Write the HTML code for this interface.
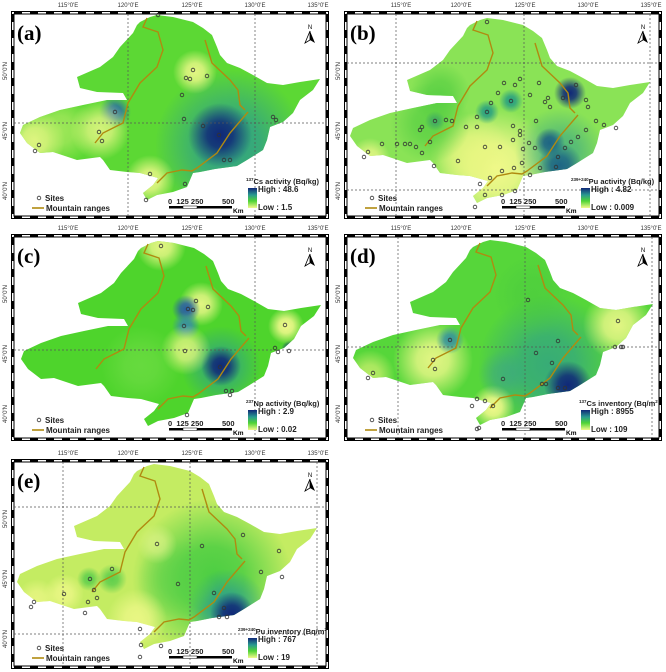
<!DOCTYPE html>
<html><head><meta charset="utf-8"><style>
html,body{margin:0;padding:0;background:#fff;width:666px;height:672px;overflow:hidden}
svg{position:absolute;font-family:"Liberation Sans",sans-serif}
</style></head><body>
<div id="root"></div>
<script>
const shape="M157,15 L173,17 L193,22 L203,28 L212,35 L217,47 L220,55 L227,63 L240,68 L253,75 L267,83 L283,85 L300,82 L320,79 L313,90 L300,100 L293,113 L283,122 L270,127 L267,140 L263,150 L247,160 L237,166 L215,169 L200,172 L193,173 L187,187 L173,192 L157,195 L147,200 L143,193 L153,185 L158,178 L140,173 L127,172 L110,170 L103,160 L100,157 L77,160 L53,152 L40,153 L27,143 L20,133 L23,125 L40,117 L60,110 L83,105 L107,100 L127,100 L123,93 L97,92 L80,88 L77,77 L100,67 L113,57 L120,47 L133,33 L137,25 L140,22 L150,17 Z";
const mtn=["M147,18 L143,27 L158,32 L163,50 L157,67 L140,83 L128,103 L123,123 L103,133 L95,143","M205,40 L212,63 L230,80 L238,90 L240,105 L245,110","M248,112 L230,133 L217,153 L197,168 L192,171 L182,170 L167,173 L157,183"];
const Y="#f2f98c",G="#4fd435",B="#102878",T="#2a9a90";
const P=[
 {id:"a",ox:0,oy:0,fy0:11,fy1:218,dx:0,dy:0,base:"#5cd834",
  blobs:[[230,145,75,T,0.85],[220,135,32,B,1],[115,112,16,"#2a70a0",1],[195,72,22,Y,0.9],[100,130,30,Y,0.8],[35,140,30,Y,0.9],[150,180,25,Y,0.9],[60,130,35,"#c8f070",0.6]],
  vx:[128,255],hy:[123],t1:"Cs activity (Bq/kg)",sup:"137",hi:"High : 48.6",lo:"Low : 1.5",
  sites:[[158,15],[193,70],[186,78],[190,79],[207,76],[182,95],[184,119],[203,126],[219,135],[99,132],[102,141],[39,145],[35,151],[115,112],[273,117],[276,120],[224,160],[230,160],[150,174],[185,184],[146,200]]},
 {id:"b",ox:333,oy:0,fy0:11,fy1:218,dx:-3,dy:3,base:"#8ae356",
  blobs:[[165,165,60,Y,1],[140,150,40,"#e8f680",0.8],[240,90,16,B,1],[220,140,15,B,1],[230,162,22,B,1],[230,150,45,T,0.6],[105,118,10,"#2a70a0",1],[157,109,12,"#2aa080",1],[181,98,12,"#2aa080",1],[100,120,40,"#50cc40",0.7],[110,90,30,"#50cc40",0.7],[40,155,20,Y,0.8]],
  vx:[63,191,317],hy:[63,190],t1:"Pu activity (Bq/kg)",sup:"239+240",hi:"High : 4.82",lo:"Low : 0.009",
  sites:[[157,19],[174,80],[190,76],[185,82],[209,80],[200,92],[181,98],[161,100],[168,90],[157,109],[147,114],[116,117],[122,118],[105,118],[92,124],[90,127],[136,124],[147,124],[183,123],[190,128],[206,118],[218,95],[246,82],[256,97],[258,104],[266,118],[274,122],[286,125],[256,127],[248,134],[241,139],[235,145],[228,154],[226,164],[210,165],[200,172],[192,160],[184,165],[172,168],[160,175],[150,181],[155,192],[172,192],[185,188],[52,141],[67,141],[75,141],[80,141],[86,144],[100,139],[92,150],[38,149],[34,154],[128,158],[104,163],[193,146],[199,140],[205,145],[155,144],[170,144],[183,137],[190,132],[145,204],[233,95],[220,104],[215,99]]},
 {id:"c",ox:0,oy:222,fy0:12,fy1:218,dx:1,dy:4,base:"#4ed42c",
  blobs:[[220,140,40,T,0.7],[220,140,20,B,1],[290,124,10,B,1],[285,100,18,Y,1],[200,78,22,Y,0.9],[185,83,14,"#2a60a0",1],[185,100,14,"#3a90a0",1],[160,20,25,Y,0.9],[185,124,25,Y,0.8],[140,140,40,"#7ee050",0.5]],
  vx:[255],hy:[128],t1:"Np activity (Bq/kg)",sup:"237",hi:"High : 2.9",lo:"Low : 0.02",
  sites:[[160,20],[195,75],[192,84],[187,83],[207,81],[183,100],[184,125],[219,141],[225,165],[231,165],[229,169],[274,122],[277,126],[288,125],[284,99],[186,189]]},
 {id:"d",ox:333,oy:222,fy0:12,fy1:218,dx:0,dy:3,base:"#56d63a",
  blobs:[[215,140,70,T,0.7],[235,160,24,B,1],[100,135,40,Y,0.9],[285,100,35,Y,0.9],[160,182,22,Y,1],[37,150,25,"#d0f070",0.8],[117,115,14,"#2a8aa0",0.9],[170,150,25,"#3aa090",0.5],[200,70,40,"#48c840",0.5]],
  vx:[65,192,319],hy:[125],t1:"Cs inventory (Bq/m",sup:"137",sup2:"2",hi:"High : 8955",lo:"Low : 109",
  sites:[[195,75],[117,115],[100,135],[102,144],[35,153],[40,148],[203,128],[225,116],[219,138],[170,154],[209,159],[213,159],[225,163],[232,163],[285,96],[282,122],[288,122],[290,122],[144,174],[139,181],[160,181],[152,176],[146,203],[144,204]]},
 {id:"e",ox:0,oy:440,fy0:19,fy1:228,dx:-3,dy:9,base:"#c4ec62",
  blobs:[[215,130,80,"#44cc40",0.95],[230,160,40,T,0.85],[235,165,22,B,1],[180,130,40,"#58d048",0.6],[115,130,15,"#48c848",0.8],[92,130,12,"#48c848",0.8],[67,145,20,Y,0.8],[140,170,30,Y,0.8],[160,95,20,"#e0f48a",0.7],[40,150,20,Y,0.7]],
  vx:[63,190,317],hy:[67,194],t1:"Pu inventory (Bq/m",sup:"239+240",sup2:"2",hi:"High : 767",lo:"Low : 19",
  sites:[[160,95],[205,97],[246,86],[282,102],[264,123],[285,128],[181,135],[217,144],[227,159],[222,168],[230,168],[115,120],[93,130],[97,141],[100,149],[91,153],[88,164],[67,145],[37,153],[34,158],[143,180],[144,196],[164,197],[143,208]]}
];
let html="";
const lon=["115°0'E","120°0'E","125°0'E","130°0'E","135°0'E"],lx=[68,128,192,255,318];
P.forEach(p=>{
 let s=`<svg style="left:${p.ox}px;top:${p.oy}px" width="333" height="232" viewBox="0 0 333 232"><defs><clipPath id="c${p.id}"><path transform="translate(${p.dx},${p.dy})" d="${shape}"/></clipPath>`;
 p.blobs.forEach((b,i)=>{s+=`<radialGradient id="g${p.id}${i}"><stop offset="0" stop-color="${b[3]}" stop-opacity="${b[4]}"/><stop offset="0.4" stop-color="${b[3]}" stop-opacity="${b[4]*0.85}"/><stop offset="1" stop-color="${b[3]}" stop-opacity="0"/></radialGradient>`});
 s+=`<linearGradient id="cb${p.id}" x1="0" y1="0" x2="0" y2="1"><stop offset="0" stop-color="#102878"/><stop offset="0.35" stop-color="#2a9a90"/><stop offset="0.65" stop-color="#4fd435"/><stop offset="1" stop-color="#f2f98c"/></linearGradient></defs>`;
 const f0=p.fy0,f1=p.fy1;
 s+=`<rect x="11.5" y="${f0+.5}" width="317" height="${f1-f0}" fill="#fff" stroke="#000" stroke-width="1"/>`;
 s+=`<rect x="14" y="${f0+3}" width="312" height="${f1-f0-5}" fill="none" stroke="#000" stroke-width="1"/>`;
 for(let x=14;x<326;x+=16){s+=`<line x1="${x}" y1="${f0+1.5}" x2="${x+8}" y2="${f0+1.5}" stroke="#000" stroke-width="2.5"/><line x1="${x}" y1="${f1-1}" x2="${x+8}" y2="${f1-1}" stroke="#000" stroke-width="2.5"/>`}
 for(let y=f0+3;y<f1-2;y+=16){s+=`<line x1="12.5" y1="${y}" x2="12.5" y2="${Math.min(y+8,f1-2)}" stroke="#000" stroke-width="2.5"/><line x1="327.5" y1="${y}" x2="327.5" y2="${Math.min(y+8,f1-2)}" stroke="#000" stroke-width="2.5"/>`}
 lon.forEach((t,i)=>{s+=`<text x="${lx[i]}" y="${f0-4}" font-size="6" fill="#333" text-anchor="middle">${t}</text>`});
 s+=`<text transform="translate(7,${f0+60}) rotate(-90)" font-size="6" fill="#333" text-anchor="middle">50°0'N</text><text transform="translate(7,${f0+120}) rotate(-90)" font-size="6" fill="#333" text-anchor="middle">45°0'N</text><text transform="translate(7,${f0+180}) rotate(-90)" font-size="6" fill="#333" text-anchor="middle">40°0'N</text>`;
 s+=`<g clip-path="url(#c${p.id})"><rect x="0" y="0" width="333" height="232" fill="${p.base}"/>`;
 p.blobs.forEach((b,i)=>{s+=`<circle cx="${b[0]+p.dx}" cy="${b[1]+p.dy}" r="${b[2]}" fill="url(#g${p.id}${i})"/>`});
 s+=`</g>`;
 p.vx.forEach(x=>{s+=`<line x1="${x}" y1="${f0+3}" x2="${x}" y2="${f1-2}" stroke="#555" stroke-width="0.7" stroke-dasharray="2,2"/>`});
 p.hy.forEach(y=>{s+=`<line x1="14" y1="${y}" x2="326" y2="${y}" stroke="#555" stroke-width="0.7" stroke-dasharray="2,2"/>`});
 s+=`<g transform="translate(${p.dx},${p.dy})">`;
 mtn.forEach(d=>{s+=`<path d="${d}" fill="none" stroke="#b08a10" stroke-width="1.4"/>`});
 p.sites.forEach(q=>{s+=`<circle cx="${q[0]}" cy="${q[1]}" r="1.8" fill="none" stroke="#333" stroke-width="0.8"/>`});
 s+=`</g>`;
 const L=f1-218;
 s+=`<text x="17" y="${f0+29}" font-family="Liberation Serif,serif" font-weight="bold" font-size="21">(${p.id})</text>`;
 s+=`<g transform="translate(310,${f0+18})"><text x="0" y="0" font-size="6" text-anchor="middle">N</text><path d="M0,2 L-5,14 L0,11 Z" fill="none" stroke="#000" stroke-width="0.8"/><path d="M0,2 L5,14 L0,11 Z" fill="#000"/></g>`;
 s+=`<circle cx="39" cy="${198+L}" r="1.8" fill="none" stroke="#333" stroke-width="0.8"/><text x="45" y="${201+L}" font-size="8" font-weight="bold" fill="#222">Sites</text>`;
 s+=`<line x1="32" y1="${208+L}" x2="44" y2="${208+L}" stroke="#b08a10" stroke-width="1.6"/><text x="46" y="${211+L}" font-size="8" font-weight="bold" fill="#222">Mountain ranges</text>`;
 s+=`<text x="168" y="${204+L}" font-size="7.5" font-weight="bold" fill="#222">0&#160;&#160;125 250</text><text x="222" y="${204+L}" font-size="7.5" font-weight="bold" fill="#222">500</text><text x="233" y="${213+L}" font-size="6.5" font-weight="bold">Km</text>`;
 s+=`<rect x="169" y="${206+L}" width="14" height="2.5" fill="#000"/><rect x="183" y="${206+L}" width="14" height="2.5" fill="#fff" stroke="#000" stroke-width="0.5"/><rect x="197" y="${206+L}" width="35" height="2.5" fill="#000"/>`;
 s+=`<rect x="248" y="${188+L}" width="9" height="20" fill="url(#cb${p.id})"/>`;
 s+=`<text x="${p.sup.length>3?238:246}" y="${184+L}" font-size="7.5" font-weight="bold" fill="#222"><tspan font-size="4.5" dy="-3">${p.sup}</tspan><tspan dy="3">${p.t1}</tspan>${p.sup2?`<tspan font-size="4.5" dy="-3">2</tspan>`:""}</text>`;
 s+=`<text x="258" y="${192+L}" font-size="8" font-weight="bold" fill="#222">${p.hi}</text><text x="258" y="${210+L}" font-size="8" font-weight="bold" fill="#222">${p.lo}</text>`;
 s+=`</svg>`;
 html+=s;
});
document.getElementById("root").innerHTML=html;
</script>
</body></html>
